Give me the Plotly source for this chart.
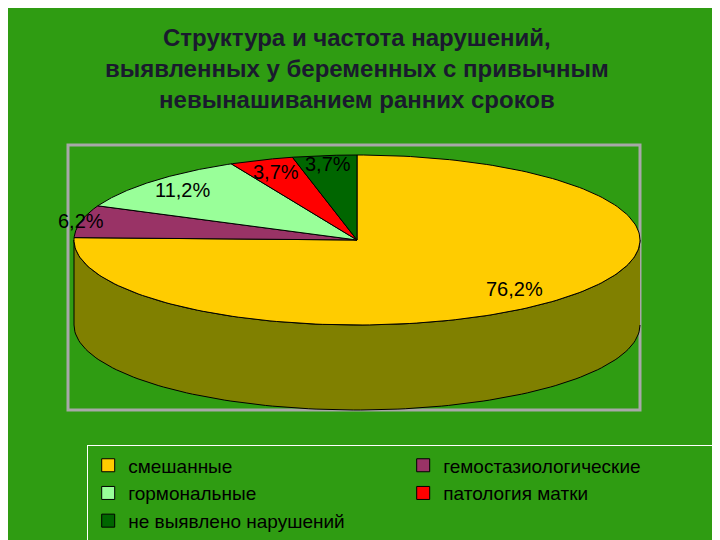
import numpy as np
import plotly.graph_objects as go

categories = ["смешанные", "гемостазиологические", "гормональные",
              "патология матки", "не выявлено нарушений"]
values = [76.2, 6.2, 11.2, 3.7, 3.7]
labels = ["76,2%", "6,2%", "11,2%", "3,7%", "3,7%"]

top_colors = ["#ffcc00", "#993366", "#99ff99", "#ff0000", "#006600"]
side_colors = ["#808000", "#662244", "#66aa66", "#aa0000", "#004400"]
label_r = [0.8, 1.0, 0.85, 0.85, 0.9]

cx, cy, rx, ry, depth = 357, 240, 283, 85, 85
bg = "#2f9c12"


def pt(th, dy=0.0):
    return cx + rx * np.sin(th), cy - ry * np.cos(th) + dy


fig = go.Figure()
total = sum(values)
bounds = np.cumsum([0] + values) / total * 2 * np.pi

# side walls (front half only)
for i in range(len(values)):
    a0, a1 = max(bounds[i], np.pi / 2), min(bounds[i + 1], 3 * np.pi / 2)
    if a1 <= a0:
        continue
    th = np.linspace(a0, a1, 120)
    xs, ys = pt(th)
    xb, yb = pt(th[::-1], depth)
    fig.add_trace(go.Scatter(x=np.r_[xs, xb], y=np.r_[ys, yb], fill="toself",
                             fillcolor=side_colors[i], mode="lines",
                             line=dict(color="black", width=1),
                             showlegend=False, hoverinfo="skip"))

# top faces
for i in range(len(values)):
    th = np.linspace(bounds[i], bounds[i + 1], 200)
    xs, ys = pt(th)
    fig.add_trace(go.Scatter(x=np.r_[cx, xs, cx], y=np.r_[cy, ys, cy], fill="toself",
                             fillcolor=top_colors[i], mode="lines",
                             line=dict(color="black", width=1),
                             showlegend=False, hoverinfo="skip"))

# legend entries as squares
for i in range(len(values)):
    fig.add_trace(go.Scatter(x=[None], y=[None], mode="markers", name=categories[i],
                             marker=dict(symbol="square", size=13, color=top_colors[i],
                                         line=dict(color="black", width=1))))

# labels
for i in range(len(values)):
    m = (bounds[i] + bounds[i + 1]) / 2
    lx = cx + label_r[i] * rx * np.sin(m)
    ly = cy - label_r[i] * ry * np.cos(m)
    fig.add_annotation(x=lx, y=ly, text=labels[i], showarrow=False,
                       font=dict(size=20, color="black", family="Liberation Sans"))

fig.add_shape(type="rect", x0=68, y0=145, x1=640, y1=410,
              line=dict(color="#a8a8a8", width=3), layer="below")

fig.update_layout(
    width=720, height=540,
    margin=dict(l=0, r=0, t=0, b=0),
    paper_bgcolor=bg, plot_bgcolor=bg,
    xaxis=dict(range=[8, 728], visible=False, fixedrange=True),
    yaxis=dict(range=[548, 8], visible=False, fixedrange=True),
    annotations=list(fig.layout.annotations) + [dict(
        x=357, y=22, xanchor="center", yanchor="top",
        showarrow=False,
        text="<b>Структура и частота нарушений,<br>выявленных у беременных с привычным<br>невынашиванием ранних сроков</b>",
        font=dict(size=24, color="#1a1a2e", family="Liberation Sans"))],
    legend=dict(orientation="h", x=0.11, y=0.19, xanchor="left", yanchor="top",
                entrywidth=270, bgcolor=bg, bordercolor="white", borderwidth=1,
                font=dict(size=19, color="black", family="Liberation Sans")),
)

fig.write_html("out.html")
